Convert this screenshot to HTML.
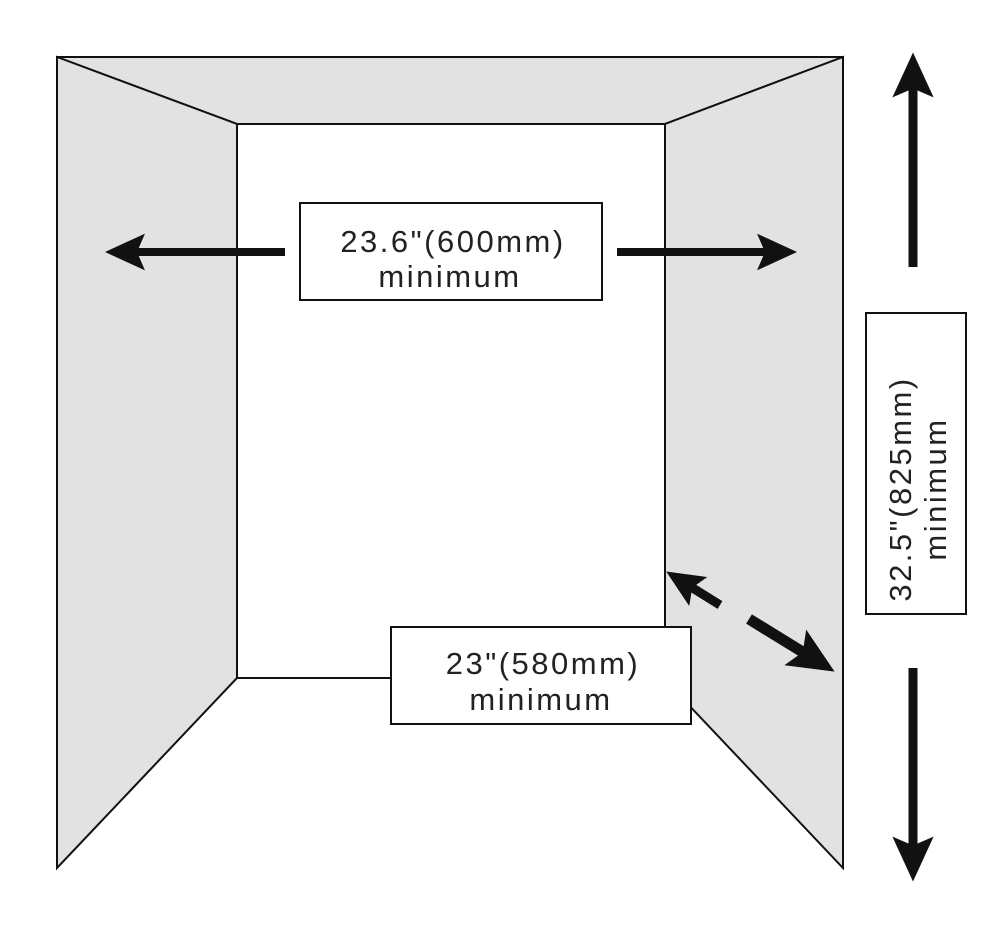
<!DOCTYPE html>
<html><head><style>
body{margin:0;background:#fff}
svg{display:block}
text{font-family:"Liberation Sans",Arial,sans-serif;font-size:31px;letter-spacing:2.5px;fill:#222}
</style></head><body>
<svg width="1000" height="931" viewBox="0 0 1000 931">
<defs>
<marker id="ah" markerWidth="5" markerHeight="4.6" refX="2.5" refY="2.3" orient="auto" markerUnits="strokeWidth"><path d="M0,0 L5,2.3 L0,4.6 L1,2.3 Z" fill="#111"/></marker>
<marker id="ah2" markerWidth="4.2" markerHeight="3.8" refX="2" refY="1.9" orient="auto" markerUnits="strokeWidth"><path d="M0,0 L4.2,1.9 L0,3.8 L0.8,1.9 Z" fill="#111"/></marker>
</defs>
<g stroke="#111" stroke-width="2" fill="#e2e2e2">
<polygon points="57,57 843,57 665,124 237,124"/>
<polygon points="57,57 237,124 237,678 57,868"/>
<polygon points="843,57 665,124 665,680 843,868"/>
<rect x="237" y="124" width="428" height="554" fill="#fff"/>
</g>
<rect x="300" y="203" width="302" height="97" fill="#fff" stroke="#111" stroke-width="2"/>
<text x="453" y="252" text-anchor="middle">23.6"(600mm)</text>
<text x="450" y="287" text-anchor="middle">minimum</text>
<rect x="391" y="627" width="300" height="97" fill="#fff" stroke="#111" stroke-width="2"/>
<text x="543" y="674" text-anchor="middle">23"(580mm)</text>
<text x="541" y="710" text-anchor="middle">minimum</text>
<rect x="866" y="313" width="100" height="301" fill="#fff" stroke="#111" stroke-width="2"/>
<g transform="translate(916,489) rotate(-90)">
<text x="0" y="-5" text-anchor="middle">32.5"(825mm)</text>
<text x="0" y="30" text-anchor="middle">minimum</text>
</g>
<g stroke="#111" stroke-width="8" fill="none">
<line x1="285" y1="252" x2="125" y2="252" marker-end="url(#ah)"/>
<line x1="617" y1="252" x2="777" y2="252" marker-end="url(#ah)"/>
<line x1="913" y1="267" x2="913" y2="75" stroke-width="9" marker-end="url(#ah)"/>
<line x1="913" y1="668" x2="913" y2="859" stroke-width="9" marker-end="url(#ah)"/>
<line x1="720" y1="605" x2="683" y2="582" stroke-width="9" marker-end="url(#ah2)"/>
<line x1="749" y1="619" x2="814" y2="659" stroke-width="11" marker-end="url(#ah2)"/>
</g>
</svg>
</body></html>
